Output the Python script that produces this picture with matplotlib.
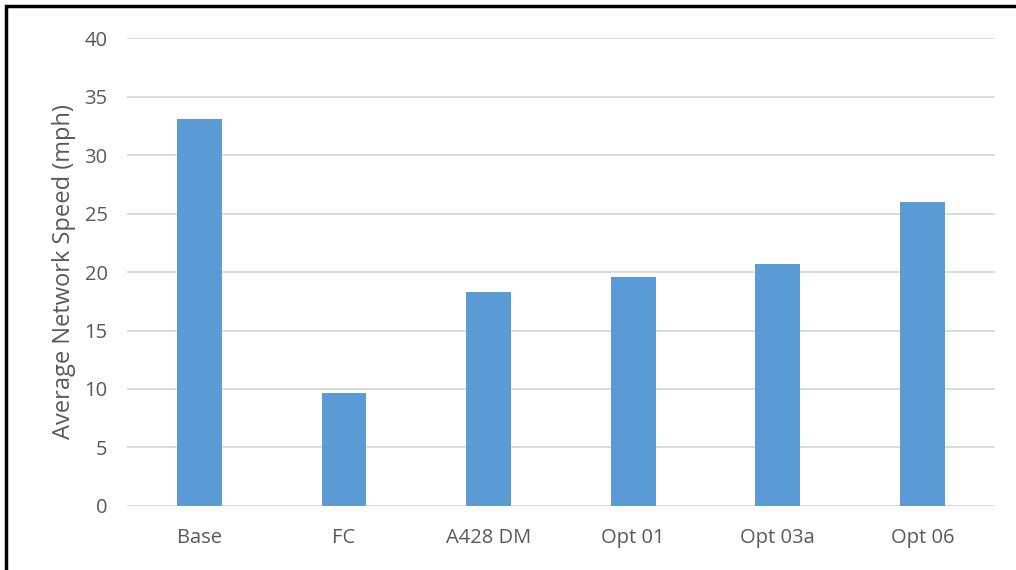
import matplotlib.pyplot as plt
from matplotlib.patches import Rectangle

categories = ["Base", "FC", "A428 DM", "Opt 01", "Opt 03a", "Opt 06"]
speeds = [33.1, 9.7, 18.3, 19.6, 20.7, 26.0]
yticks = [0, 5, 10, 15, 20, 25, 30, 35, 40]

plt.rcParams['font.family'] = ['Open Sans', 'DejaVu Sans']

fig = plt.figure(figsize=(10.16, 5.7), dpi=100)
ax = fig.add_axes([0.125, 0.1123, 0.854, 0.821])

x = range(len(categories))
ax.bar(x, speeds, width=0.31, color="#5b9bd5", zorder=3)

ax.set_xlim(-0.5, len(categories) - 0.5)
ax.set_ylim(0, 40)
ax.set_yticks(yticks)
ax.set_xticks(list(x))
ax.set_xticklabels(categories)
ax.tick_params(axis='both', length=0, labelsize=14.5, labelcolor="#595959")
ax.tick_params(axis='y', pad=14)
ax.tick_params(axis='x', pad=16)
ax.grid(axis='y', color="#d9d9d9", linewidth=1.3, zorder=0)
for s in ax.spines.values():
    s.set_visible(False)
ax.set_ylabel("Average Network Speed (mph)", fontsize=17, color="#595959", labelpad=6)

# outer frame
fig.add_artist(Rectangle((0.006, -0.01), 1.0, 1.0 - 0.001, transform=fig.transFigure,
                         fill=False, edgecolor="black", linewidth=2.5))

fig.savefig("out.png", dpi=100)
